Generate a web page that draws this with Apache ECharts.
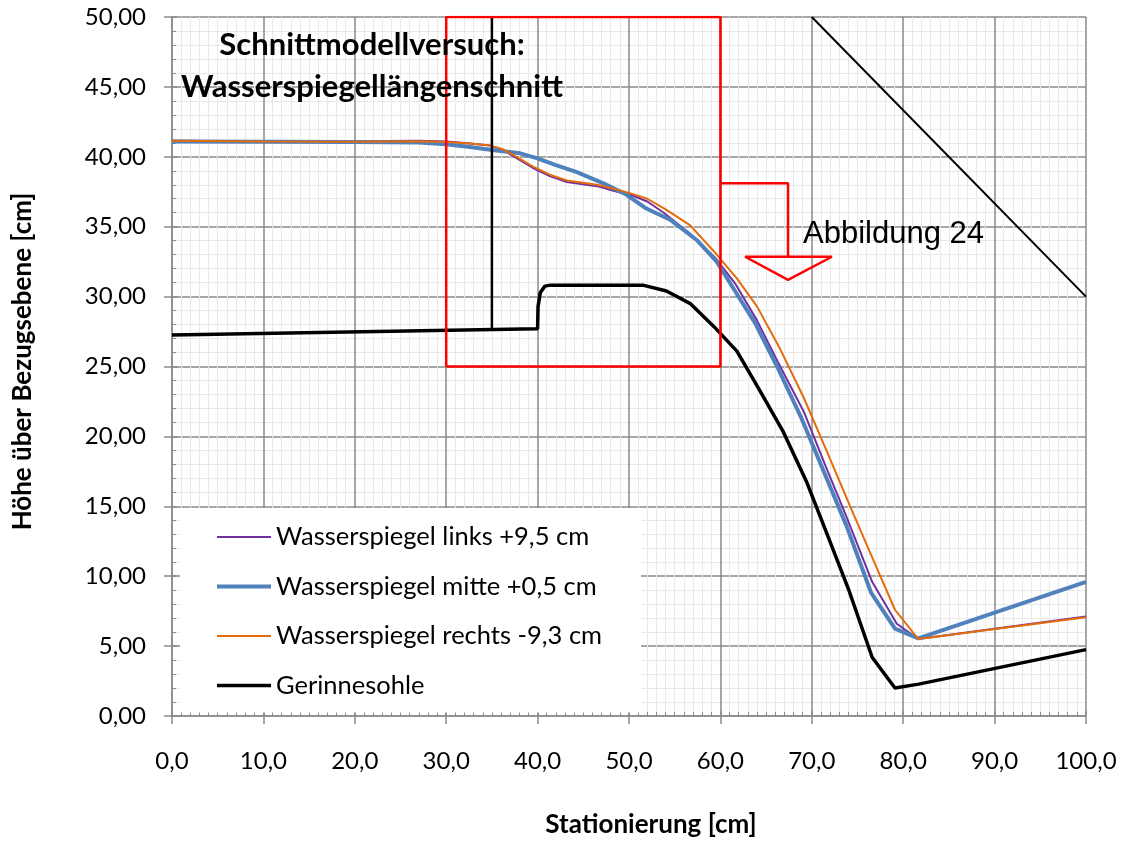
<!DOCTYPE html>
<html>
<head>
<meta charset="utf-8">
<script src="https://cdn.jsdelivr.net/npm/echarts@6/dist/echarts.min.js"></script>
<style>
html,body{margin:0;padding:0;background:#fff;}
#chart{width:1128px;height:843px;}
</style>
</head>
<body>
<div id="chart"></div>
<script>
// ---- data (x = Stationierung [cm], y = Höhe [cm]) ----
const seriesNames = ['Wasserspiegel links +9,5 cm', 'Wasserspiegel mitte +0,5 cm', 'Wasserspiegel rechts -9,3 cm', 'Gerinnesohle'];

const links = [[0,41.15],[10,41.12],[20,41.12],[27,41.15],[30,41.1],[32.6,40.95],[34.8,40.8],[36.2,40.5],[37.7,39.9],[39.5,39.2],[41.4,38.6],[43.2,38.2],[46.5,37.9],[48.7,37.5],[50.1,37.3],[52,36.8],[53.8,36.0],[56.7,34.5],[59.4,32.8],[61.6,30.95],[64.0,28.3],[66.3,25.3],[69.1,21.8],[71.5,17.9],[73.8,14.25],[76.6,9.6],[79.3,6.6],[81.65,5.5],[100,7.12]];

const mitte = [[0,41.1],[10,41.08],[20,41.05],[27,41.02],[30,40.9],[32.6,40.7],[34.8,40.5],[38.1,40.25],[39.9,39.9],[42,39.4],[44.3,38.9],[47.2,38.1],[49.7,37.3],[51.9,36.3],[54.5,35.5],[57.4,34.05],[59.6,32.5],[61.6,30.4],[63.8,28.1],[66.2,25.0],[68.8,21.4],[71.3,17.5],[73.8,13.6],[76.5,8.8],[79.1,6.25],[81.65,5.55],[100,9.6]];

const rechts = [[0,41.15],[10,41.1],[20,41.08],[27,41.12],[30,41.05],[32.6,40.95],[34.8,40.8],[36.2,40.55],[37.7,40.0],[39.5,39.3],[41.4,38.7],[43.2,38.3],[46.5,38.0],[48.7,37.65],[50.1,37.4],[52,37.0],[54.1,36.2],[56.7,35.1],[59.2,33.3],[61.8,31.3],[64.0,29.3],[66.5,26.3],[69.1,22.8],[71.6,19.0],[74.2,15.0],[76.7,11.2],[79.1,7.6],[81.65,5.5],[100,7.06]];

const sohle = [[0,27.25],[40,27.7],[40.05,29.3],[40.3,30.3],[40.8,30.75],[41.4,30.82],[51.5,30.82],[54.1,30.4],[56.7,29.5],[59.3,27.85],[61.8,26.1],[64.3,23.3],[66.9,20.3],[69.4,16.8],[71.8,12.8],[74.0,9.1],[76.6,4.2],[79.1,2.0],[81.7,2.28],[100,4.75]];

// annotation shapes (data coordinates)
const markerLine = [[35,27.64],[35,50]];
const diagonalLine = [[70,50],[100,30]];
const redBox = [[30,25],[30,50],[60,50],[60,25],[30,25]];
const redArrow = [[60,38.1],[67.4,38.1],[67.4,32.85],[62.7,32.85],[67.4,31.2],[72.2,32.85],[67.4,32.85]];

const xTicks = {min:0, max:100, interval:10};
const yTicks = {min:0, max:50, interval:5};
const titleText = 'Schnittmodellversuch:\nWasserspiegellängenschnitt';
const figureText = 'Abbildung 24';

const colors = ['#7030A0', '#4F81BD', '#E46C0A', '#000000'];
const widths = [2, 4, 2, 3.5];

const chart = echarts.init(document.getElementById('chart'), null, {renderer:'canvas'});
const font = 'Lato';
const gridColor = '#8a8a8a';

const dataSets = [links, mitte, rechts, sohle];
const series = dataSets.map((d, i) => ({
  name: seriesNames[i], type: 'line', data: d, symbol: 'none', smooth: false,
  lineStyle: {color: colors[i], width: widths[i]}, itemStyle: {color: colors[i]},
  z: 2 + i
}));
function shape(d, color, width) {
  return {type:'line', data:d, symbol:'none', silent:true, legendHoverLink:false,
    lineStyle:{color:color, width:width}, itemStyle:{color:color}, z:10};
}
series.push(shape(markerLine, '#000', 2.5));
series.push(shape(diagonalLine, '#000', 2));
series.push(shape(redBox, '#FF0000', 2.5));
series.push(shape(redArrow, '#FF0000', 2.5));

// secondary tick-only axes (inside ticks + minor ticks)
function innerAxis(base, split) {
  return Object.assign({}, base, {
    axisLine:{show:false}, axisLabel:{show:false}, splitLine:{show:false},
    minorSplitLine:{show:false}, name:'',
    axisTick:{show:true, inside:true, length:5, lineStyle:{color:gridColor, width:1.5}},
    minorTick:{show:true, splitNumber:split, length:4, lineStyle:{color:gridColor, width:1}}
  });
}

const xMain = {
  type:'value', min:xTicks.min, max:xTicks.max, interval:xTicks.interval, position:'bottom',
  name:'Stationierung [cm]', nameLocation:'middle', nameGap:96,
  nameTextStyle:{fontFamily:font, fontWeight:'bold', fontSize:26, color:'#000', padding:[0,0,0,44]},
  axisLine:{show:true, onZero:false, lineStyle:{color:gridColor, width:1.5}},
  axisTick:{show:true, inside:false, length:8, lineStyle:{color:gridColor, width:1.5}},
  minorTick:{show:false, splitNumber:10},
  axisLabel:{margin:33, fontFamily:font, fontSize:24, color:'#000',
    formatter:v => v.toFixed(1).replace('.', ',')},
  splitLine:{show:true, lineStyle:{color:gridColor, width:1.5}},
  minorSplitLine:{show:true, lineStyle:{color:'#e9e9e9', width:1}}
};
const yMain = {
  type:'value', min:yTicks.min, max:yTicks.max, interval:yTicks.interval, position:'left',
  name:'Höhe über Bezugsebene [cm]', nameLocation:'middle', nameGap:136, nameRotate:90,
  nameTextStyle:{fontFamily:font, fontWeight:'bold', fontSize:26, color:'#000', padding:[0,0,0,10]},
  axisLine:{show:true, onZero:false, lineStyle:{color:gridColor, width:1.5}},
  axisTick:{show:true, inside:false, length:8, lineStyle:{color:gridColor, width:1.5}},
  minorTick:{show:false, splitNumber:5},
  axisLabel:{margin:26, fontFamily:font, fontSize:24, color:'#000',
    formatter:v => v.toFixed(2).replace('.', ',')},
  splitLine:{show:true, lineStyle:{color:gridColor, width:1.5}},
  minorSplitLine:{show:true, lineStyle:{color:'#e9e9e9', width:1}}
};

chart.setOption({
  animation: false,
  backgroundColor: '#fff',
  grid: {left:172, right:42, top:17, bottom:127, containLabel:false, outerBoundsMode:'none'},
  xAxis: [xMain, innerAxis(xMain, 10)],
  yAxis: [yMain, innerAxis(yMain, 5)],
  legend: {
    data: seriesNames.map((n, i) => ({name:n, lineStyle:{width:widths[i]}})),
    orient:'vertical', left:180, top:508,
    padding:[14,39,12,35], backgroundColor:'#fff',
    itemWidth:54, itemHeight:14, itemGap:19.5,
    itemStyle:{opacity:0},
    textStyle:{fontFamily:font, fontSize:25.5, color:'#000', lineHeight:30},
    selectedMode:false
  },
  graphic: [
    {type:'text', x:372, y:66, z:100, style:{text:titleText, textAlign:'center', textVerticalAlign:'middle',
      font:'bold 31px Lato', lineHeight:42, fill:'#000'}},
    {type:'text', x:803, y:234, z:100, style:{text:figureText, textAlign:'left', textVerticalAlign:'middle',
      font:'31px "Liberation Sans"', fill:'#000'}}
  ],
  series: series
});
</script>
</body>
</html>
